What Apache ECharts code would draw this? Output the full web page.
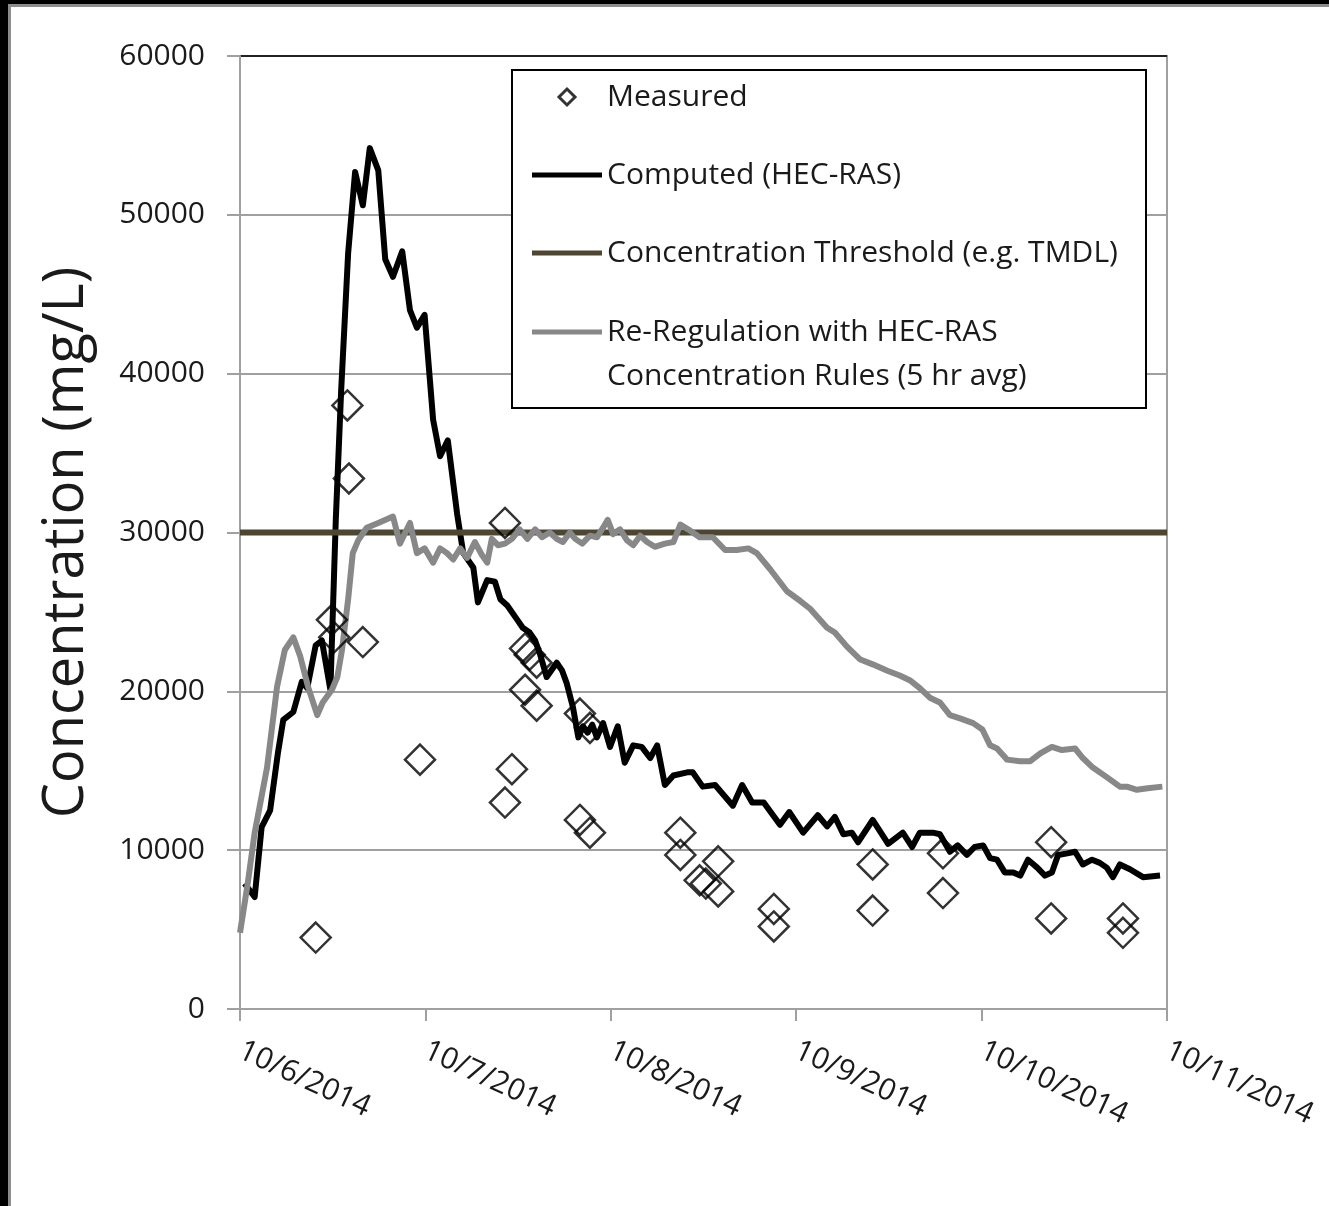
<!DOCTYPE html>
<html>
<head>
<meta charset="utf-8">
<title>Concentration</title>
<script src="https://cdn.jsdelivr.net/npm/echarts@6/dist/echarts.min.js"></script>
<style>
  html, body { margin: 0; padding: 0; background: #fff; }
  #chart { position: absolute; left: 0; top: 0; width: 1329px; height: 1206px; }
  .edge { position: absolute; }
</style>
</head>
<body>
<div id="chart"></div>
<div class="edge" style="left:0;top:4px;width:1329px;height:3px;background:#8c8c8c"></div>
<div class="edge" style="left:8px;top:0;width:3px;height:1206px;background:#8c8c8c"></div>
<div class="edge" style="left:0;top:0;width:1329px;height:4px;background:#000"></div>
<div class="edge" style="left:0;top:0;width:8px;height:1206px;background:#000"></div>
<script>
// x values are hours after 10/6/2014 00:00
const dayLabels = ['10/6/2014', '10/7/2014', '10/8/2014', '10/9/2014', '10/10/2014', '10/11/2014'];

const measuredHours = [9.8, 11.9, 12.2, 13.9, 14.1, 15.9, 23.3, 34.3, 34.3, 35.2,
  36.9, 37.5, 38.4, 36.9, 38.4, 44.0, 45.3, 44.0, 45.3, 57.0,
  57.0, 59.5, 60.3, 61.9, 61.9, 69.1, 69.1, 81.9, 81.9, 91.0,
  91.0, 105.0, 105.0, 114.3, 114.3];
const measuredConc = [4500, 24500, 23400, 38000, 33400, 23100, 15700, 30600, 13000, 15100,
  22700, 22300, 21800, 20100, 19100, 18600, 17700, 11900, 11100, 11100,
  9700, 8100, 7900, 9300, 7400, 6300, 5200, 9100, 6200, 9800,
  7300, 10500, 5700, 5700, 4800];

const computedHours = [0.6, 1.9, 2.8, 3.9, 4.9, 5.6, 6.9, 8.0, 8.7, 9.8,
  10.6, 11.7, 12.4, 13.1, 14.0, 14.9, 15.9, 16.8, 17.9, 18.8,
  19.8, 21.0, 22.0, 22.9, 23.9, 25.0, 25.9, 26.9, 28.1, 28.9,
  30.2, 30.8, 32.0, 33.0, 33.7, 34.6, 35.9, 36.6, 37.5, 38.2,
  38.8, 39.7, 41.0, 41.7, 42.3, 43.1, 43.8, 44.4, 45.0, 45.6,
  46.2, 47.0, 47.9, 48.9, 49.8, 50.9, 52.0, 53.1, 54.0, 55.0,
  56.1, 57.9, 58.6, 59.9, 61.5, 63.8, 65.0, 66.3, 67.8, 69.9,
  71.1, 72.9, 74.8, 76.0, 77.0, 78.1, 79.2, 80.0, 81.9, 83.9,
  85.8, 87.0, 88.0, 89.7, 90.6, 91.9, 92.9, 94.1, 95.1, 96.2,
  97.1, 98.0, 99.0, 100.1, 101.0, 102.0, 103.2, 104.2, 105.1, 105.9,
  107.1, 108.1, 109.1, 110.3, 111.3, 112.2, 113.0, 113.9, 115.2, 116.9,
  119.1];
const computedConc = [7900, 7050, 11450, 12500, 16100, 18200, 18700, 20600, 20200, 22900,
  23200, 20100, 30800, 39000, 47600, 52700, 50600, 54200, 52800, 47200,
  46100, 47700, 44000, 42900, 43700, 37100, 34800, 35800, 31200, 28700,
  27800, 25600, 27000, 26900, 25800, 25400, 24500, 24000, 23700, 23200,
  22400, 20900, 21800, 21300, 20500, 19000, 17100, 17800, 17400, 17900,
  17100, 18000, 16500, 17800, 15500, 16600, 16500, 15800, 16600, 14100,
  14700, 14900, 14900, 14000, 14100, 12800, 14100, 13000, 13000, 11600,
  12400, 11100, 12200, 11500, 12100, 11000, 11100, 10500, 11900, 10400,
  11100, 10200, 11100, 11100, 11000, 9900, 10300, 9700, 10200, 10300,
  9500, 9400, 8600, 8600, 8400, 9400, 8900, 8400, 8600, 9700,
  9800, 9900, 9100, 9400, 9200, 8900, 8300, 9100, 8800, 8300,
  8400];

const reregHours = [0, 1.0, 1.9, 3.5, 4.8, 5.8, 6.9, 7.8, 8.8, 10.0,
  10.7, 11.9, 12.6, 13.2, 14.0, 14.6, 15.3, 16.4, 17.9, 19.8,
  20.7, 22.0, 22.9, 23.9, 25.0, 25.9, 26.8, 27.6, 28.5, 29.4,
  30.4, 31.3, 32.0, 32.6, 33.4, 34.3, 35.2, 36.2, 37.2, 38.2,
  39.1, 40.1, 41.0, 41.8, 42.7, 43.4, 44.3, 45.3, 46.2, 47.0,
  47.6, 48.3, 49.2, 50.1, 50.9, 51.8, 52.7, 53.7, 55.0, 56.1,
  57.0, 58.0, 59.5, 61.2, 62.8, 64.3, 65.8, 66.9, 68.6, 70.8,
  72.5, 73.8, 76.0, 77.0, 78.6, 80.3, 81.9, 83.8, 85.4, 86.7,
  88.0, 89.3, 90.6, 91.9, 93.2, 94.9, 96.1, 97.1, 98.0, 99.3,
  101.0, 102.3, 103.6, 105.1, 106.4, 108.1, 109.1, 110.4, 112.2, 113.9,
  114.8, 116.1, 117.5, 119.4];
const reregConc = [4800, 7900, 11100, 15200, 20300, 22600, 23400, 22200, 20300, 18500,
  19300, 20100, 20900, 22600, 25800, 28700, 29500, 30300, 30600, 31000,
  29300, 30600, 28700, 29000, 28100, 29000, 28700, 28300, 29000, 28400,
  29400, 28600, 28100, 29600, 29200, 29300, 29600, 30200, 29600, 30200,
  29700, 30000, 29600, 29400, 30000, 29600, 29300, 29800, 29700, 30300,
  30800, 29900, 30200, 29500, 29200, 29800, 29400, 29100, 29300, 29400,
  30500, 30200, 29700, 29700, 28900, 28900, 29000, 28700, 27700, 26300,
  25700, 25200, 24000, 23700, 22800, 22000, 21700, 21300, 21000, 20700,
  20200, 19600, 19300, 18500, 18300, 18000, 17600, 16600, 16400, 15700,
  15600, 15600, 16100, 16500, 16300, 16400, 15800, 15200, 14600, 14000,
  14000, 13800, 13900, 14000];

const thresholdHours = [0, 120];
const thresholdConc = [30000, 30000];

const seriesNames = [
  'Measured',
  'Computed (HEC-RAS)',
  'Concentration Threshold (e.g. TMDL)',
  'Re-Regulation with HEC-RAS Concentration Rules (5 hr avg)'
];

const zip = (xs, ys) => xs.map((x, i) => [x, ys[i]]);

const FONT = '"Open Sans", "Noto Sans", sans-serif';
const TEXT = '#1a1a1a';
const AXIS_GRAY = '#a0a0a0';
const BLACK = '#000000';
const OLIVE = '#4d4632';
const GRAY = '#888888';
const barIcon = 'path://M0,0L70,0L70,5L0,5Z';
const diamondIcon = 'path://M8,0L16,8L8,16L0,8Z';

const chart = echarts.init(document.getElementById('chart'), null, { renderer: 'canvas' });

chart.setOption({
  animation: false,
  backgroundColor: '#ffffff',
  textStyle: { fontFamily: FONT },
  grid: {
    left: 240, right: 162, top: 56, bottom: 197,
    containLabel: false,
    outerBoundsMode: 'none',
    show: true,
    borderColor: AXIS_GRAY,
    borderWidth: 2,
    backgroundColor: 'transparent'
  },
  xAxis: {
    type: 'value',
    min: 0, max: 120, interval: 24,
    axisLine: { show: true, onZero: false, lineStyle: { color: AXIS_GRAY, width: 2 } },
    axisTick: { show: true, inside: false, length: 12, lineStyle: { color: AXIS_GRAY, width: 2 } },
    splitLine: { show: false },
    axisLabel: {
      rotate: -25,
      margin: 40,
      fontSize: 30,
      color: TEXT,
      fontFamily: FONT,
      formatter: v => dayLabels[Math.round(v / 24)]
    }
  },
  yAxis: {
    type: 'value',
    min: 0, max: 60000, interval: 10000,
    name: 'Concentration (mg/L)',
    nameLocation: 'middle',
    nameGap: 145,
    nameTextStyle: { fontSize: 56, color: TEXT, fontFamily: FONT, padding: [0, 20, 0, 0] },
    axisLine: { show: true, lineStyle: { color: AXIS_GRAY, width: 2 } },
    axisTick: { show: true, inside: false, length: 13, lineStyle: { color: AXIS_GRAY, width: 2 } },
    splitLine: {
      show: true,
      lineStyle: {
        width: 2,
        color: [AXIS_GRAY, AXIS_GRAY, AXIS_GRAY, AXIS_GRAY, AXIS_GRAY, AXIS_GRAY, '#222222']
      }
    },
    axisLabel: {
      margin: 35,
      fontSize: 30,
      color: TEXT,
      fontFamily: FONT,
      formatter: v => String(v)
    }
  },
  legend: [
    {
      data: [
        { name: seriesNames[0], icon: diamondIcon,
          itemStyle: { color: 'rgba(0,0,0,0)', borderColor: BLACK, borderWidth: 3 } },
        { name: seriesNames[1], icon: barIcon, itemStyle: { color: BLACK, borderWidth: 0 } },
        { name: seriesNames[2], icon: barIcon, itemStyle: { color: OLIVE, borderWidth: 0 } }
      ],
      orient: 'vertical',
      left: 532, top: 79,
      padding: 0,
      itemWidth: 70, itemHeight: 16, itemGap: 42,
      symbolKeepAspect: true,
      selectedMode: false,
      textStyle: { fontSize: 30, lineHeight: 36, color: TEXT, fontFamily: FONT }
    },
    {
      data: [
        { name: seriesNames[3], icon: barIcon, itemStyle: { color: GRAY, borderWidth: 0 } }
      ],
      orient: 'vertical',
      left: 532, top: 317,
      padding: 0,
      itemWidth: 70, itemHeight: 16,
      selectedMode: false,
      formatter: () => '{a|Re-Regulation with HEC-RAS}\n{a|Concentration Rules (5 hr avg)}',
      textStyle: {
        fontSize: 30, color: TEXT, fontFamily: FONT,
        padding: [44, 0, 0, 0],
        rich: { a: { fontSize: 30, lineHeight: 44, color: TEXT, fontFamily: FONT } }
      }
    }
  ],
  graphic: [
    {
      type: 'rect',
      z: 3,
      shape: { x: 512, y: 70, width: 634, height: 338 },
      style: { fill: '#ffffff', stroke: BLACK, lineWidth: 2 }
    }
  ],
  series: [
    {
      name: seriesNames[0],
      type: 'scatter',
      symbol: 'diamond',
      symbolSize: 30,
      itemStyle: { color: 'rgba(0,0,0,0)', borderColor: BLACK, borderWidth: 2.5 },
      data: zip(measuredHours, measuredConc),
      z: 2
    },
    {
      name: seriesNames[1],
      type: 'line',
      symbol: 'none',
      lineStyle: { color: BLACK, width: 6, join: 'round' },
      itemStyle: { color: BLACK },
      data: zip(computedHours, computedConc),
      z: 2
    },
    {
      name: seriesNames[2],
      type: 'line',
      symbol: 'none',
      lineStyle: { color: OLIVE, width: 6 },
      itemStyle: { color: OLIVE },
      data: zip(thresholdHours, thresholdConc),
      z: 2
    },
    {
      name: seriesNames[3],
      type: 'line',
      symbol: 'none',
      lineStyle: { color: GRAY, width: 6, join: 'round' },
      itemStyle: { color: GRAY },
      data: zip(reregHours, reregConc),
      z: 2
    }
  ]
});
</script>
</body>
</html>
